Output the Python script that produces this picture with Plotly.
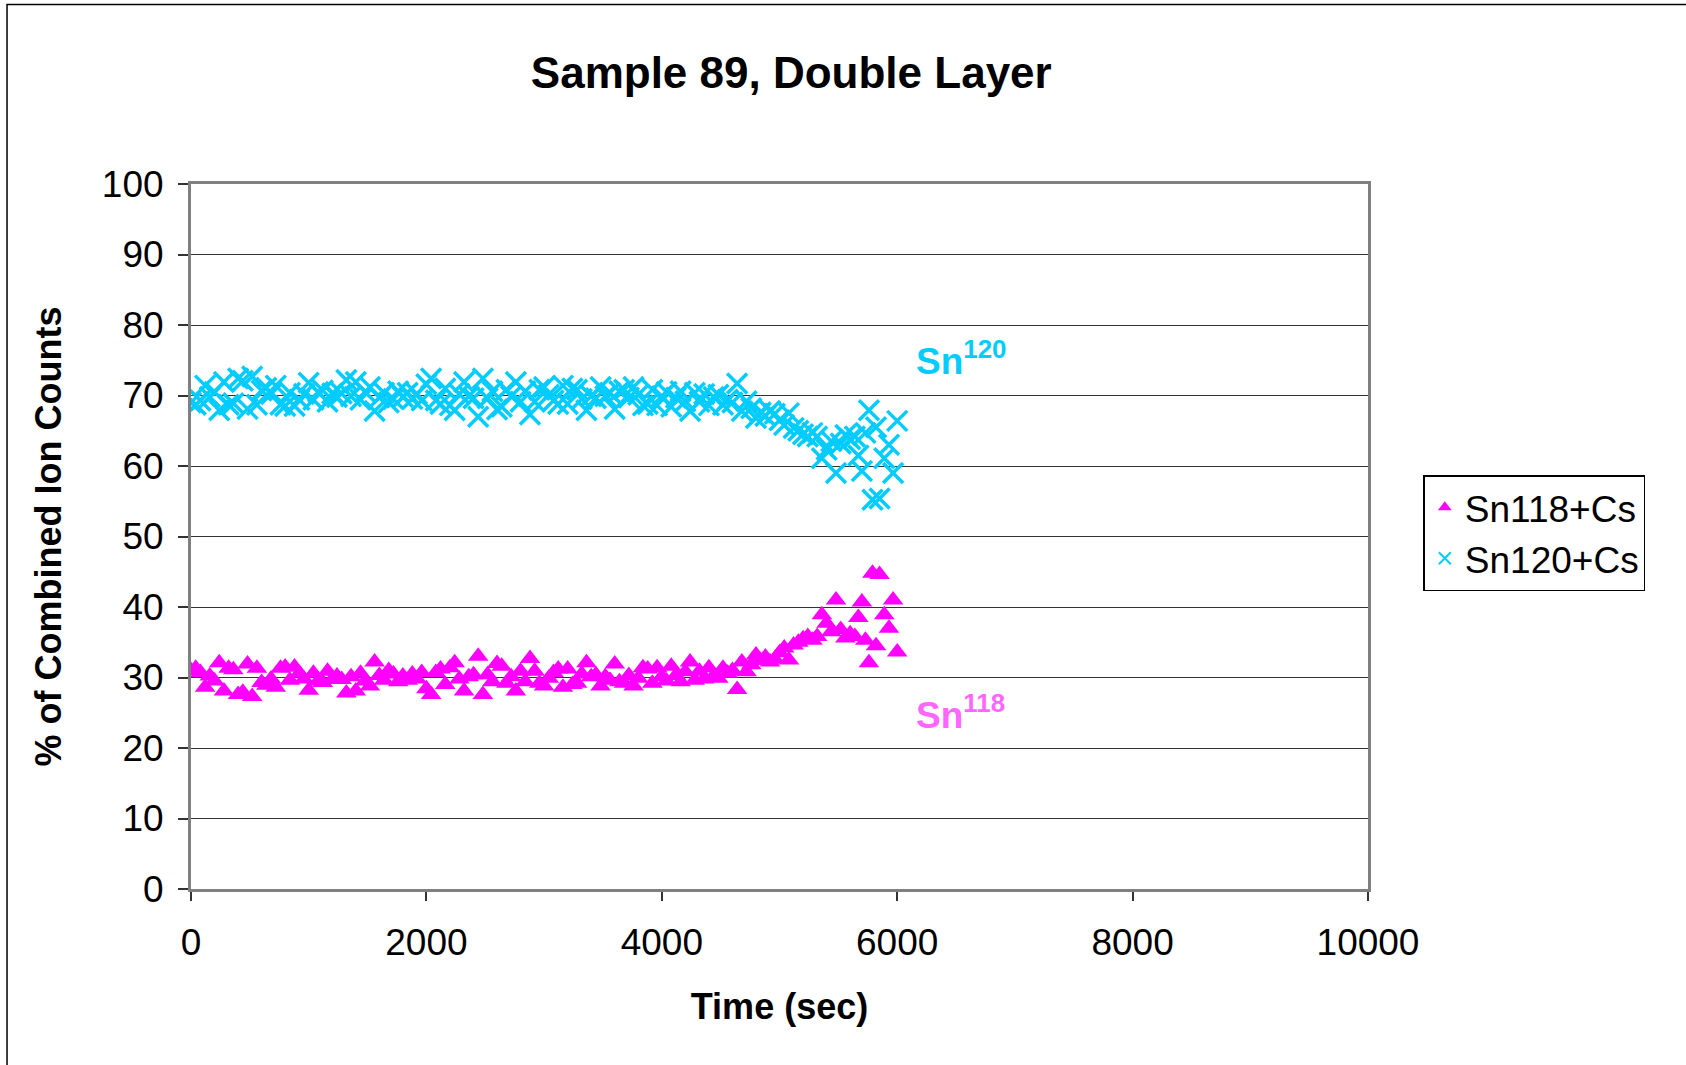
import plotly.graph_objects as go

time_sec = [0, 40, 80, 120, 160, 200, 240, 280, 320, 360, 400, 440, 480, 520, 560, 600, 640, 680, 720, 760,
            800, 840, 880, 920, 960, 1000, 1040, 1080, 1120, 1160, 1200, 1240, 1280, 1320, 1360, 1400, 1440, 1480, 1520, 1560,
            1600, 1640, 1680, 1720, 1760, 1800, 1840, 1880, 1920, 1960, 2000, 2040, 2080, 2120, 2160, 2200, 2240, 2280, 2320, 2360,
            2400, 2440, 2480, 2520, 2560, 2600, 2640, 2680, 2720, 2760, 2800, 2840, 2880, 2920, 2960, 3000, 3040, 3080, 3120, 3160,
            3200, 3240, 3280, 3320, 3360, 3400, 3440, 3480, 3520, 3560, 3600, 3640, 3680, 3720, 3760, 3800, 3840, 3880, 3920, 3960,
            4000, 4040, 4080, 4120, 4160, 4200, 4240, 4280, 4320, 4360, 4400, 4440, 4480, 4520, 4560, 4600, 4640, 4680, 4720, 4760,
            4800, 4840, 4880, 4920, 4960, 5000, 5040, 5080, 5120, 5160, 5200, 5240, 5280, 5320, 5360, 5400, 5440, 5480, 5520, 5560,
            5600, 5640, 5670, 5700, 5730, 5760, 5790, 5820, 5850, 5890, 5930, 5965, 6000]

sn118 = [31.0, 31.3, 30.7, 28.6, 30.2, 29.5, 32.1, 28.1, 31.3, 31.1, 27.6, 27.9, 31.9, 27.3, 31.3, 29.3, 28.9, 29.8, 28.6, 31.3,
         31.5, 29.6, 31.5, 30.6, 29.8, 28.2, 30.6, 29.5, 29.3, 30.9, 29.7, 30.2, 29.7, 27.8, 30.1, 28.1, 30.6, 29.5, 28.8, 32.2,
         30.3, 29.6, 31.0, 30.5, 29.4, 30.2, 29.6, 30.5, 29.8, 30.7, 28.4, 27.6, 30.7, 31.2, 29.0, 31.4, 32.1, 29.8, 28.1, 30.1,
         30.4, 33.0, 27.6, 30.4, 29.4, 32.0, 31.6, 29.2, 30.1, 28.1, 30.9, 29.4, 32.7, 30.9, 29.2, 28.8, 29.9, 30.7, 31.2, 28.6,
         31.2, 29.0, 29.2, 30.5, 32.1, 30.1, 30.4, 28.8, 30.1, 29.6, 31.9, 29.4, 29.2, 30.3, 28.8, 29.9, 31.4, 31.2, 29.2, 31.4,
         30.1, 29.5, 31.6, 30.3, 29.4, 30.8, 32.2, 29.6, 30.9, 29.8, 31.4, 30.2, 29.9, 31.3, 30.6, 31.0, 28.3, 32.2, 30.8, 31.8,
         33.2, 32.4, 32.9, 32.2, 32.6, 33.5, 34.2, 32.5, 34.6, 35.0, 35.5, 35.8, 35.3, 35.8, 38.9, 37.7, 36.5, 41.0, 36.8, 35.6,
         36.2, 35.8, 38.5, 40.7, 35.3, 32.1, 44.8, 34.5, 44.6, 38.9, 37.0, 41.0, 33.6]

sn120 = [69.0, 68.7, 69.3, 71.4, 69.8, 70.5, 67.9, 71.9, 68.7, 68.9, 72.4, 72.1, 68.1, 72.7, 68.7, 70.7, 71.1, 70.2, 71.4, 68.7,
         68.5, 70.4, 68.5, 69.4, 70.2, 71.8, 69.4, 70.5, 70.7, 69.1, 70.3, 69.8, 70.3, 72.2, 69.9, 71.9, 69.4, 70.5, 71.2, 67.8,
         69.7, 70.4, 69.0, 69.5, 70.6, 69.8, 70.4, 69.5, 70.2, 69.3, 71.6, 72.4, 69.3, 68.8, 71.0, 68.6, 67.9, 70.2, 71.9, 69.9,
         69.6, 67.0, 72.4, 69.6, 70.6, 68.0, 68.4, 70.8, 69.9, 71.9, 69.1, 70.6, 67.3, 69.1, 70.8, 71.2, 70.1, 69.3, 68.8, 71.4,
         68.8, 71.0, 70.8, 69.5, 67.9, 69.9, 69.6, 71.2, 69.9, 70.4, 68.1, 70.6, 70.8, 69.7, 71.2, 70.1, 68.6, 68.8, 70.8, 68.6,
         69.9, 70.5, 68.4, 69.7, 70.6, 69.2, 67.8, 70.4, 69.1, 70.2, 68.6, 69.8, 70.1, 68.7, 69.4, 69.0, 71.7, 67.8, 69.2, 68.2,
         66.8, 67.6, 67.1, 67.8, 67.4, 66.5, 65.8, 67.5, 65.4, 65.0, 64.5, 64.2, 64.7, 64.2, 61.1, 62.3, 63.5, 59.0, 63.2, 64.4,
         63.8, 64.2, 61.5, 59.3, 64.7, 67.9, 55.2, 65.5, 55.4, 61.1, 63.0, 59.0, 66.4]

y_ticks = [0, 10, 20, 30, 40, 50, 60, 70, 80, 90, 100]
x_ticks = [0, 2000, 4000, 6000, 8000, 10000]

FONT = "Liberation Sans, Arial, sans-serif"
MAGENTA = "#FF00FF"
CYAN = "#00CCFF"

fig = go.Figure()
fig.add_trace(go.Scatter(
    x=time_sec, y=sn118, mode="markers", name="Sn118+Cs",
    marker=dict(symbol="triangle-up", size=18, color=MAGENTA, line=dict(width=0)),
))
fig.add_trace(go.Scatter(
    x=time_sec, y=sn120, mode="markers", name="Sn120+Cs",
    marker=dict(symbol="x-thin", size=20, color=CYAN, line=dict(width=3.5, color=CYAN)),
))

fig.update_layout(
    width=1686, height=1065,
    margin=dict(l=191, r=318, t=184, b=176),
    paper_bgcolor="white", plot_bgcolor="white",
    font=dict(family=FONT, size=36, color="black"),
    title=dict(text="<b>Sample 89, Double Layer</b>", x=0.51, xref="paper", xanchor="center",
               y=1 - 73 / 1065, yref="container", yanchor="middle",
               font=dict(family=FONT, size=44, color="black")),
    showlegend=True,
    legend=dict(x=1.047, y=0.587, xanchor="left", yanchor="top",
                bordercolor="black", borderwidth=1.5, bgcolor="white",
                font=dict(family=FONT, size=37, color="black"),
                itemsizing="constant", tracegroupgap=0),
    xaxis=dict(range=[0, 10000], tickvals=x_ticks, ticktext=[str(v) for v in x_ticks],
               showgrid=False, zeroline=False,
               showline=True, linecolor="#808080", linewidth=3, mirror=True,
               ticks="outside", ticklen=9, tickwidth=1.5, tickcolor="#333333",
               ticklabelstandoff=10,
               tickfont=dict(family=FONT, size=37),
               title=dict(text="<b>Time (sec)</b>", font=dict(family=FONT, size=36), standoff=32)),
    yaxis=dict(range=[0, 100], tickvals=y_ticks, ticktext=[str(v) for v in y_ticks],
               showgrid=True, gridcolor="#333333", gridwidth=1, zeroline=False,
               showline=True, linecolor="#808080", linewidth=3, mirror=True,
               ticks="outside", ticklen=10, tickwidth=1.5, tickcolor="#333333",
               ticklabelstandoff=7,
               tickfont=dict(family=FONT, size=37),
               title=dict(text="<b>% of Combined Ion Counts</b>", font=dict(family=FONT, size=36), standoff=30)),
)

fig.add_annotation(x=6540, y=75.3, xref="x", yref="y", text="<b>Sn<sup>120</sup></b>",
                   showarrow=False, font=dict(family=FONT, size=37, color=CYAN))
fig.add_annotation(x=6540, y=25.1, xref="x", yref="y", text="<b>Sn<sup>118</sup></b>",
                   showarrow=False, font=dict(family=FONT, size=37, color="#FF66FF"))

# outer chart border
fig.add_shape(type="rect", xref="paper", yref="paper",
              x0=-0.1563, x1=1.35, y0=-0.4, y1=1.2545,
              line=dict(color="black", width=1.5), fillcolor="rgba(0,0,0,0)", layer="above")

fig.write_html("out.html")
